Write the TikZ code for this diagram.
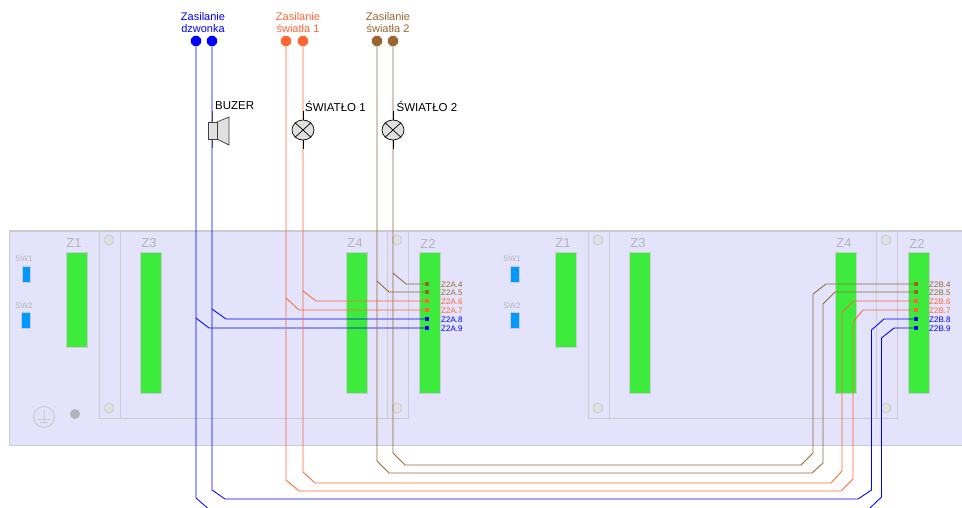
\documentclass[tikz,border=0pt]{standalone}
\usepackage{fontspec}
\setmainfont{Liberation Sans}
\usepackage{xcolor}
\usetikzlibrary{shapes.geometric}
\definecolor{panelfill}{HTML}{E3E3FB}
\definecolor{frameline}{HTML}{CCCCD0}
\definecolor{greyprint}{HTML}{B4B4B8}
\definecolor{zgreen}{HTML}{3DEB3D}
\definecolor{swblue}{HTML}{0099FF}
\definecolor{wireblue}{HTML}{0000FF}
\definecolor{wireorange}{HTML}{FF6633}
\definecolor{wirebrown}{HTML}{996633}
\definecolor{partfill}{HTML}{E0E0E0}
\tikzset{
	zblock/.style={draw=frameline,fill=zgreen,line width=0.8pt},
	swblock/.style={draw=frameline,fill=swblue,line width=0.8pt},
	holedot/.style={draw=frameline,fill=partfill,line width=0.8pt},
	frametrace/.style={draw=frameline,line width=1pt},
	zlabel/.style={text=greyprint,font=\fontsize{13}{13}\selectfont,inner sep=0pt},
	swlabel/.style={text=greyprint,font=\fontsize{8}{8}\selectfont,inner sep=0pt},
	pinlabel/.style={anchor=west,inner sep=0pt,font=\fontsize{8}{8}\selectfont},
	headlabel/.style={align=center,inner sep=0pt,font=\fontsize{11}{11.5}\selectfont},
	partlabel/.style={anchor=west,inner sep=0pt,font=\fontsize{11.5}{11.5}\selectfont},
	terminal/.style={regular polygon,regular polygon sides=8,minimum size=11pt,inner sep=0pt,fill=#1},
	pin/.style={rectangle,minimum size=4pt,inner sep=0pt,fill=#1},
	wire/.style={line width=0.85pt,#1},
	lamp/.style={draw=black,fill=partfill,line width=0.7pt}
}
\begin{document}
\begin{tikzpicture}[x=1pt,y=-1pt]
	\useasboundingbox (0,0) rectangle (962,508);
	\fill[panelfill] (9,231) rectangle (962,445);
	\draw[frametrace] (962,231) -- (9,231) -- (9,445) -- (962,445);
	\draw[frametrace] (99,231) -- (99,418) -- (408,418) -- (408,231);
	\draw[frametrace] (120,231) -- (120,418);
	\draw[frametrace] (387,231) -- (387,418);
	\draw[frametrace] (588,231) -- (588,418) -- (897,418) -- (897,231);
	\draw[frametrace] (609,231) -- (609,418);
	\draw[frametrace] (876,231) -- (876,418);
	\foreach \holex in {109,397,598,886} {
		\draw[holedot] (\holex,240) circle (5);
		\draw[holedot] (\holex,408) circle (5);
	}
	\foreach \zx/\zname in {66/a,555/b} {
		\node[zblock,anchor=north west,minimum width=20.5pt,minimum height=95pt,inner sep=0pt] (zone\zname) at (\zx,252) {};
		\node[zlabel] (zonelabel\zname) at (\zx+8,243.5) {Z1};
	}
	\foreach \zx/\ztext/\zname in {140/Z3/c,346/Z4/d,419/Z2/e,629/Z3/f,835/Z4/g,908/Z2/h} {
		\node[zblock,anchor=north west,minimum width=20.5pt,minimum height=141pt,inner sep=0pt] (zone\zname) at (\zx,252) {};
		\node[zlabel] (zonelabel\zname) at (\zx+9,243.5) {\ztext};
	}
	\node[swblock,minimum width=8pt,minimum height=16pt,inner sep=0pt] (swa) at (26.5,274) {};
	\node[swblock,minimum width=9.5pt,minimum height=16pt,inner sep=0pt] (swb) at (26,320) {};
	\node[swblock,minimum width=9.5pt,minimum height=16pt,inner sep=0pt] (swc) at (515,274) {};
	\node[swblock,minimum width=9.5pt,minimum height=16pt,inner sep=0pt] (swd) at (515,320) {};
	\node[swlabel] (swlabela) at (24,259) {SW1};
	\node[swlabel] (swlabelb) at (24,306) {SW2};
	\node[swlabel] (swlabelc) at (512,259) {SW1};
	\node[swlabel] (swlabeld) at (512,306) {SW2};
	\draw[frametrace] (44,417) circle (10.5);
	\draw[frametrace] (44,409) -- (44,424);
	\draw[frametrace] (37,419) -- (51,419);
	\draw[frametrace] (40,422) -- (48,422);
	\fill[greyprint] (75,414) circle (5);
	\node[headlabel,text=wireblue] (heada) at (203,22.5) {Zasilanie\\dzwonka};
	\node[headlabel,text=wireorange] (headb) at (298,22.5) {Zasilanie\\światła 1};
	\node[headlabel,text=wirebrown] (headc) at (388,22.5) {Zasilanie\\światła 2};
	\node[terminal=wireblue] (tba) at (196,41) {};
	\node[terminal=wireblue] (tbb) at (212,41) {};
	\node[terminal=wireorange] (toa) at (286,41) {};
	\node[terminal=wireorange] (tob) at (303,41) {};
	\node[terminal=wirebrown] (tca) at (377,41) {};
	\node[terminal=wirebrown] (tcb) at (393,41) {};
	\foreach \pinlet/\pinx/\laby in {A/427/441,B/915.5/929} {
		\node[pin=wirebrown] (\pinlet4) at (\pinx,284) {};
		\node[pin=wirebrown] (\pinlet5) at (\pinx,292) {};
		\node[pin=wireorange] (\pinlet6) at (\pinx,301) {};
		\node[pin=wireorange] (\pinlet7) at (\pinx,310) {};
		\node[pin=wireblue] (\pinlet8) at (\pinx,319) {};
		\node[pin=wireblue] (\pinlet9) at (\pinx,328) {};
		\node[pinlabel,text=wirebrown] (lab\pinlet4) at (\laby,284.5) {Z2\pinlet.4};
		\node[pinlabel,text=wirebrown] (lab\pinlet5) at (\laby,293) {Z2\pinlet.5};
		\node[pinlabel,text=wireorange] (lab\pinlet6) at (\laby,302) {Z2\pinlet.6};
		\node[pinlabel,text=wireorange] (lab\pinlet7) at (\laby,310.5) {Z2\pinlet.7};
		\node[pinlabel,text=wireblue] (lab\pinlet8) at (\laby,319.5) {Z2\pinlet.8};
		\node[pinlabel,text=wireblue] (lab\pinlet9) at (\laby,328.5) {Z2\pinlet.9};
	}
	\draw[wire=wireblue] (tba) -- (196,498) -- (207.5,508);
	\draw[wire=wireblue] (196,318) -- (209,328) -- (A9);
	\draw[wire=wireblue] (tbb) -- (212,490) -- (225,499) -- (858,499) -- (871.5,490) -- (871.5,330) -- (884,319) -- (B8);
	\draw[wire=wireblue] (212,309) -- (226,319) -- (A8);
	\draw[wire=wireblue] (870,508) -- (881.5,497) -- (881.5,338) -- (894,328) -- (B9);
	\draw[wire=wireorange] (toa) -- (286,480) -- (299,491) -- (841,491) -- (853,479) -- (853,322) -- (863,310) -- (B7);
	\draw[wire=wireorange] (286,298) -- (299,310) -- (A7);
	\draw[wire=wireorange] (tob) -- (303,472) -- (315,483) -- (831,483) -- (842,471) -- (842,312) -- (854,301) -- (B6);
	\draw[wire=wireorange] (303,291) -- (316,301) -- (A6);
	\draw[wire=wirebrown] (tca) -- (377,461) -- (389,473) -- (812,473) -- (823,463) -- (823,304) -- (835,292) -- (B5);
	\draw[wire=wirebrown] (377,281) -- (389,292) -- (A5);
	\draw[wire=wirebrown] (tcb) -- (393,453) -- (405,465) -- (801,465) -- (813,453) -- (813,294) -- (826,284) -- (B4);
	\draw[wire=wirebrown] (393,273) -- (406,284) -- (A4);
	\draw[line width=0.85pt,black!70] (212,111) -- (212,148);
	\draw[lamp,draw=black!75] (217,122) -- (229,117) -- (229,145) -- (217,139) -- cycle;
	\node[draw=black!75,fill=partfill,line width=0.7pt,minimum width=9pt,minimum height=17pt,inner sep=0pt] (buzzer) at (212.5,130.5) {};
	\node[partlabel] (buzerlabel) at (215,106) {BUZER};
	\foreach \lampx/\lampname in {303/a,393/b} {
		\draw[line width=0.85pt,black] (\lampx,111) -- (\lampx,149);
		\node[lamp,ellipse,minimum width=22pt,minimum height=20pt,inner sep=0pt] (lamp\lampname) at (\lampx,130) {};
		\draw[line width=0.7pt,black] (lamp\lampname.north west) -- (lamp\lampname.south east);
		\draw[line width=0.7pt,black] (lamp\lampname.north east) -- (lamp\lampname.south west);
	}
	\node[partlabel] (lightlabela) at (305,106) {ŚWIATŁO 1};
	\node[partlabel] (lightlabelb) at (396.5,106) {ŚWIATŁO 2};
\end{tikzpicture}
\end{document}
